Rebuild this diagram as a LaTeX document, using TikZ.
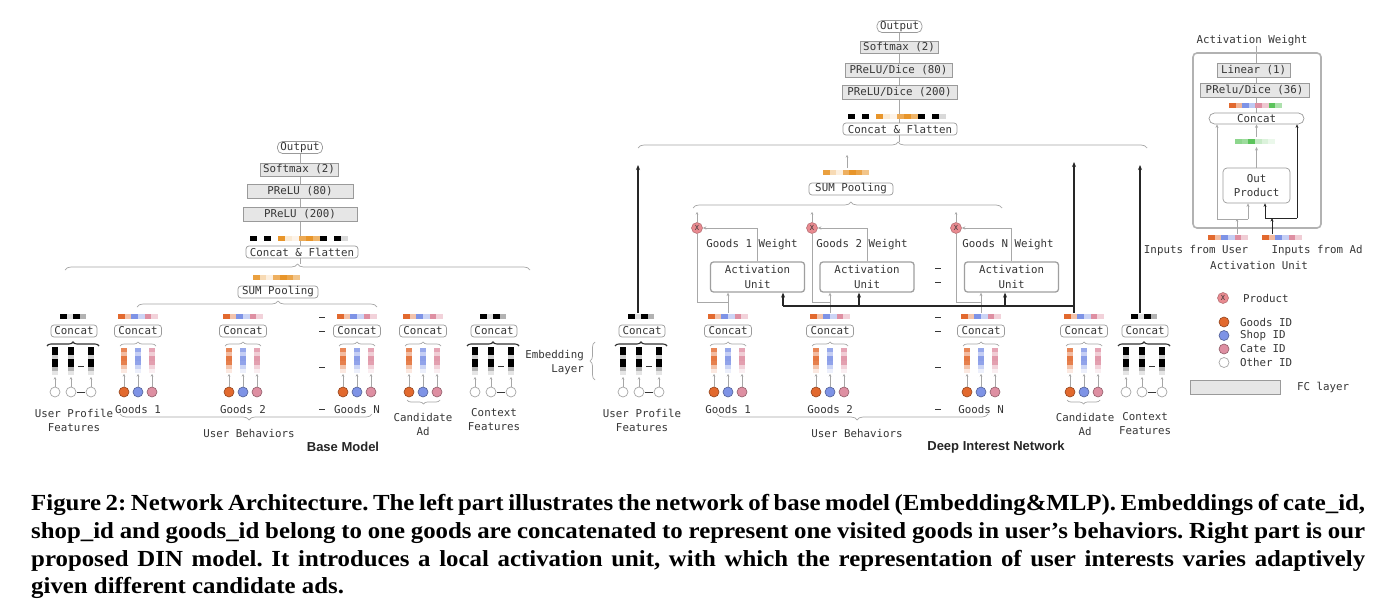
\documentclass[tikz,border=0pt]{standalone}
\usepackage{fontspec}
\setmainfont{Liberation Serif}
\setmonofont{DejaVu Sans Mono}
\newfontfamily\hsans{Liberation Sans}
\newfontfamily\capfont[FakeStretch=1.08]{Liberation Serif}
\usetikzlibrary{arrows.meta,decorations.pathreplacing}
\pgfdeclarelayer{bg}
\pgfsetlayers{bg,main}

\definecolor{gor}{HTML}{E2692E}
\definecolor{gbl}{HTML}{7E93E6}
\definecolor{gpk}{HTML}{DE8FA2}
\definecolor{ggr}{HTML}{5CC45C}
\definecolor{yor}{HTML}{E8952A}
\definecolor{xpk}{HTML}{E88A90}
\definecolor{txtc}{HTML}{363636}
\definecolor{lnc}{HTML}{A8A8A8}
\definecolor{fcfill}{HTML}{E6E6E6}
\definecolor{fcdraw}{HTML}{9A9A9A}

\tikzset{
  mono/.style={font=\ttfamily\fontsize{10.8}{14}\selectfont, text=txtc},
  fc/.style={mono, draw=fcdraw, fill=fcfill, line width=0.7pt, inner sep=0pt, minimum height=14pt},
  rbox/.style={mono, draw=fcdraw, fill=white, line width=0.7pt, rounded corners=3pt, inner sep=0pt, minimum height=12pt},
  aubox/.style={mono, draw=gray!75, fill=white, line width=1.3pt, rounded corners=3pt, align=center,
     minimum width=94pt, minimum height=30pt, inner sep=0pt, font=\ttfamily\fontsize{10.8}{14.5}\selectfont},
  lbl/.style={mono, align=center, inner sep=0pt},
  gline/.style={draw=lnc, line width=0.7pt},
  garrow/.style={gline, -{Stealth[length=3.5pt,width=3pt]}},
  sarrow/.style={draw=gray!70, line width=0.5pt, -{Stealth[length=2.5pt,width=2.5pt]}},
  bline/.style={draw=black!85, line width=1.3pt},
  barrow/.style={bline, -{Stealth[length=5pt,width=4pt]}},
  kln/.style={draw=black!85, line width=0.9pt},
  karrow/.style={kln, -{Stealth[length=3.5pt,width=3pt]}},
  gbrace/.style={draw=gray!70, line width=0.7pt, decorate, decoration={brace, amplitude=#1}},
  gbrace/.default=6pt,
  kbrace/.style={draw=black!80, line width=1.1pt, decorate, decoration={brace, amplitude=4pt}},
  circ/.style={circle, inner sep=0pt, minimum size=10pt, line width=0.6pt, fill=#1, draw=#1!65!black},
  ocirc/.style={circle, inner sep=0pt, minimum size=10pt, line width=0.7pt, fill=white, draw=gray!70},
  xcirc/.style={circle, inner sep=0pt, minimum size=11pt, fill=xpk, draw=xpk!75!black, line width=0.5pt,
     font=\ttfamily\fontsize{7}{7}\selectfont, text=black!80},
  dsh/.style={draw=txtc, line width=0.7pt},
  ttl/.style={font=\hsans\bfseries\fontsize{13}{15}\selectfont, text=black!85, inner sep=0pt},
  capl/.style={anchor=base west, inner sep=0pt, font=\capfont\bfseries\fontsize{23}{26}\selectfont\frenchspacing, text=black}
}

\newcommand{\hcells}[4]{%
  \foreach \cc [count=\ii from 0] in {#4} {\fill[fill=\cc] ({#1+\ii*#3},#2) rectangle ++(#3,5);}}
\newcommand{\vemb}[3]{%
  \foreach \pp [count=\ii from 0] in {80,45,90,85,40,15} {\fill[fill=#3!\pp!white] ({#1-3},{#2+\ii*4.2}) rectangle ++(6,4.2);}}
\newcommand{\kemb}[2]{%
  \foreach \pp [count=\ii from 0] in {100,100,20,100,100,30,10} {\fill[fill=black!\pp] ({#1-3},{#2+\ii*4}) rectangle ++(6,4);}}
\newcommand{\dashm}[2]{\draw[dsh] ({#1-3},#2) -- ({#1+3},#2);}

\newcommand{\goodsgrp}[2]{%
  \hcells{#2-20}{314}{6.67}{gor,gor!40,gbl,gbl!40,gpk,gpk!40}
  \node[rbox, minimum width=47pt] (#1c) at (#2,331) {Concat};
  \draw[gbrace=4pt] ({#2-18},346) -- ({#2+18},346);
  \vemb{#2-14}{348}{gor}\vemb{#2}{348}{gbl}\vemb{#2+14}{348}{gpk}
  \node[circ=gor] (#1a) at ({#2-14},392) {};
  \node[circ=gbl] (#1b) at (#2,392) {};
  \node[circ=gpk] (#1d) at ({#2+14},392) {};
  \coordinate (#1ea) at ({#2-14},374);
  \coordinate (#1eb) at (#2,374);
  \coordinate (#1ed) at ({#2+14},374);
  \draw[sarrow] (#1a) -- (#1ea);
  \draw[sarrow] (#1b) -- (#1eb);
  \draw[sarrow] (#1d) -- (#1ed);
}
\newcommand{\profgrp}[2]{%
  \hcells{#2-14}{314}{6.5}{black,black!12,black,black!30}
  \node[rbox, minimum width=46pt] (#1c) at (#2,331) {Concat};
  \draw[kbrace] ({#2-27},346) -- ({#2+25},346);
  \kemb{#2-19}{347}\kemb{#2-3}{347}\kemb{#2+17}{347}
  \node[ocirc] (#1a) at ({#2-19},392) {};
  \node[ocirc] (#1b) at ({#2-3},392) {};
  \node[ocirc] (#1d) at ({#2+17},392) {};
  \coordinate (#1ea) at ({#2-19},377);
  \coordinate (#1eb) at ({#2-3},377);
  \coordinate (#1ed) at ({#2+17},377);
  \draw[sarrow] (#1a) -- (#1ea);
  \draw[sarrow] (#1b) -- (#1eb);
  \draw[sarrow] (#1d) -- (#1ed);
  \draw[dsh] ({#2+3},392) -- ({#2+11},392);
  \draw[dsh] ({#2+4},366) -- ({#2+10},366);
}

\begin{document}
\begin{tikzpicture}[x=1pt,y=-1pt]
\useasboundingbox (0,0) rectangle (1384,610);

%% ================= BASE MODEL =================
\node[rbox, minimum width=45pt, rounded corners=5pt] (bout) at (300,147.5) {Output};
\node[fc, minimum width=78pt, minimum height=13pt] (bsm) at (299,169.5) {Softmax (2)};
\node[fc, minimum width=106pt] (bp80) at (300,191.5) {PReLU (80)};
\node[fc, minimum width=114pt] (bp200) at (300,214.5) {PReLU (200)};
\hcells{250}{236}{7}{black,white,black,white,yor,yor!20,yor!10,yor!80,yor,yor!70,black,white,black,black!15}
\node[rbox, minimum width=112pt] (bcf) at (302,252) {Concat \& Flatten};
\coordinate (bbt) at (300,264);
\draw[gbrace] (65,270) -- (530,270);

\hcells{253}{275}{6.7}{yor!90,yor!35,yor!15,yor!75,yor,yor!85,yor!55}
\node[rbox, minimum width=80pt] (bsum) at (278,292) {SUM Pooling};
\draw[gbrace, decoration={aspect=0.5875}] (137,307) -- (377,307);

\profgrp{bp}{74}
\goodsgrp{bga}{138}
\goodsgrp{bgb}{243}
\goodsgrp{bgn}{357}
\goodsgrp{bca}{423}
\profgrp{bcx}{494}

\dashm{322}{317}\dashm{322}{331}\dashm{322}{367}\dashm{322}{409}

\node[lbl] (bpl) at (74,420) {User Profile\\Features};
\node[lbl] (bg1l) at (138,409) {Goods 1};
\node[lbl] (bg2l) at (243,409) {Goods 2};
\node[lbl] (bgnl) at (357,409) {Goods N};
\draw[gbrace=4pt] (440,400) -- (407,400);
\node[lbl] (bcal) at (423,424) {Candidate\\Ad};
\node[lbl] (bcxl) at (494,420) {Context\\Features};
\draw[gbrace, decoration={aspect=0.488}] (372,414) -- (120,414);
\node[lbl] (bubl) at (249,433) {User Behaviors};
\node[ttl] (btitle) at (343,447) {Base Model};

%% ================= DIN =================
\node[rbox, minimum width=45pt, rounded corners=5pt] (dout) at (899.5,26.5) {Output};
\node[fc, minimum width=78pt, minimum height=12pt] (dsm) at (899,47.5) {Softmax (2)};
\node[fc, minimum width=107pt] (dp80) at (898.5,70) {PReLU/Dice (80)};
\node[fc, minimum width=115pt] (dp200) at (899.5,92) {PReLU/Dice (200)};
\hcells{848}{114}{7}{black,white,black,white,yor,yor!20,yor!10,yor!80,yor,yor!70,black,white,black,black!15}
\node[rbox, minimum width=114pt] (dcf) at (900,129) {Concat \& Flatten};
\coordinate (dbt) at (899.5,142);
\draw[gbrace, decoration={aspect=0.511}] (638,148) -- (1147,148);

\coordinate (dsa) at (847,168);
\coordinate (dsb) at (847,155);
\draw[sarrow] (dsa) -- (dsb);
\hcells{823}{170}{6.5}{yor!90,yor!35,yor!15,yor!75,yor,yor!85,yor!55}
\node[rbox, minimum width=84pt] (dsum) at (851,189) {SUM Pooling};
\draw[gbrace, decoration={aspect=0.511}] (693,208) -- (1002,208);

\node[xcirc] (x1) at (697,228) {X};
\node[xcirc] (x2) at (812,228) {X};
\node[xcirc] (xn) at (956,228) {X};
\coordinate (x1t) at (697,212);
\coordinate (x2t) at (812,212);
\coordinate (xnt) at (956,212);
\draw[sarrow] (x1) -- (x1t);
\draw[sarrow] (x2) -- (x2t);
\draw[sarrow] (xn) -- (xnt);

\node[aubox] (au1) at (757.5,277) {Activation\\Unit};
\node[aubox] (au2) at (867,277) {Activation\\Unit};
\node[aubox] (aun) at (1011.5,277) {Activation\\Unit};
\draw[garrow] (au1.north) -- (au1.north |- x1) -- (x1);
\draw[garrow] (au2.north) -- (au2.north |- x2) -- (x2);
\draw[garrow] (aun.north) -- (aun.north |- xn) -- (xn);
\node[lbl] (w1) at (752,245) {Goods 1 Weight};
\node[lbl] (w2) at (862,245) {Goods 2 Weight};
\node[lbl] (wn) at (1008,245) {Goods N Weight};

\profgrp{dp}{642}
\goodsgrp{dga}{728}
\goodsgrp{dgb}{830}
\goodsgrp{dgn}{981}
\goodsgrp{dca}{1084}
\profgrp{dcx}{1145}

% gray goods connectors
\coordinate (g1t) at (728,313); \coordinate (g1b) at (728,302); \coordinate (g1l) at (697,302);
\coordinate (g2t) at (830,313); \coordinate (g2b) at (830,302); \coordinate (g2l) at (812,302);
\coordinate (gnt) at (981,313); \coordinate (gnb) at (981,302); \coordinate (gnl) at (956,302);
\draw[garrow] (g1t) -- (g1t |- au1.south);
\draw[garrow] (g2t) -- (g2t |- au2.south);
\draw[garrow] (gnt) -- (gnt |- aun.south);
\draw[gline] (g1b) -- (g1l) -- (x1);
\draw[gline] (g2b) -- (g2l) -- (x2);
\draw[gline] (gnb) -- (gnl) -- (xn);

% black candidate connectors
\coordinate (ct) at (1074,313); \coordinate (ce) at (1074,162);
\coordinate (cb) at (1074,306); \coordinate (cl) at (783,306);
\coordinate (c2) at (859,306); \coordinate (c3) at (1005,306);
\draw[bline] (cb) -- (cl);
\draw[barrow] (ct) -- (ce);
\draw[barrow] (cl) -- (cl |- au1.south);
\draw[barrow] (c2) -- (c2 |- au2.south);
\draw[barrow] (c3) -- (c3 |- aun.south);
\coordinate (pt) at (638,313); \coordinate (pe) at (638,165);
\draw[barrow] (pt) -- (pe);
\coordinate (xt) at (1140,313); \coordinate (xe) at (1140,165);
\draw[barrow] (xt) -- (xe);

\dashm{938}{268}\dashm{938}{282}\dashm{938}{317}\dashm{938}{331}\dashm{938}{367}\dashm{938}{409}

\node[lbl, align=right, anchor=east] (embl) at (584,363) {Embedding\\Layer};
\draw[gbrace=5pt] (595,380) -- (595,342);
\node[lbl] (dpl) at (642,420) {User Profile\\Features};
\node[lbl] (dg1l) at (728,409) {Goods 1};
\node[lbl] (dg2l) at (830,409) {Goods 2};
\node[lbl] (dgnl) at (981,409) {Goods N};
\draw[gbrace=4pt] (1100,400) -- (1067,400);
\node[lbl] (dcal) at (1085,424) {Candidate\\Ad};
\node[lbl] (dcxl) at (1145,424) {Context\\Features};
\draw[gbrace, decoration={aspect=0.483}] (988,414) -- (717,414);
\node[lbl] (dubl) at (857,433) {User Behaviors};
\node[ttl] (dtitle) at (996,447) {Deep Interest Network};

%% ================= ACTIVATION UNIT PANEL =================
\node[draw=gray!60, line width=1.6pt, rounded corners=4pt, minimum width=128pt, minimum height=175pt, inner sep=0pt] (panel) at (1257,140.5) {};
\node[lbl] (aw) at (1252,41) {Activation Weight};
\node[fc, minimum width=73pt] (lin) at (1253.5,70) {Linear (1)};
\node[fc, minimum width=109pt] (prd) at (1254.5,90) {PRelu/Dice (36)};
\hcells{1229}{103}{6.6}{gor,gor!50,gbl,gbl!50,gpk,gpk!50,ggr,ggr!50}
\node[rbox, minimum width=95pt, minimum height=11pt, rounded corners=5.5pt] (pcat) at (1256.5,118.5) {Concat};
\hcells{1235}{139}{6.67}{ggr!70,ggr!60,ggr,ggr!35,ggr!22,ggr!12}
\node[rbox, align=center, minimum width=67pt, minimum height=35pt, rounded corners=4pt] (op) at (1256.5,185.5) {Out\\Product};
\coordinate (gbb) at (1256.5,147);
\coordinate (gbt) at (1256.5,137);
\draw[garrow] (op) -- (gbb);
\draw[garrow] (gbt) -- (pcat);

\hcells{1208}{235}{6.67}{gor,gor!45,gbl,gbl!45,gpk,gpk!45}
\hcells{1262}{235}{6.67}{gor,gor!45,gbl,gbl!45,gpk,gpk!45}
\coordinate (uin) at (1237,234); \coordinate (usp) at (1237,219);
\coordinate (ul) at (1217,219); \coordinate (ur) at (1248,219);
\draw[sarrow] (uin) -- (usp);
\draw[gline] (ul) -- (ur);
\draw[garrow] (ul) -- (ul |- pcat.south);
\draw[garrow] (ur) -- (ur |- op.south);
\coordinate (ain) at (1272,234); \coordinate (asp) at (1272,218);
\coordinate (al) at (1265,218); \coordinate (ar) at (1297,218);
\draw[karrow] (ain) -- (asp);
\draw[kln] (al) -- (ar);
\draw[karrow] (al) -- (al |- op.south);
\draw[karrow] (ar) -- (ar |- pcat.south);
\node[lbl] (iu) at (1196,251) {Inputs from User};
\node[lbl] (ia) at (1317,251) {Inputs from Ad};
\node[lbl] (aul) at (1259,265) {Activation Unit};

%% ================= LEGEND =================
\node[xcirc] (lx) at (1223,298) {X};
\node[lbl, anchor=west] (lxl) at (1243,298) {Product};
\node[circ=gor] (lg) at (1224,322) {};
\node[lbl, anchor=west] (lgl) at (1240,322) {Goods ID};
\node[circ=gbl] (ls) at (1224,335.5) {};
\node[lbl, anchor=west] (lsl) at (1240,335.5) {Shop ID};
\node[circ=gpk] (lc) at (1224,349) {};
\node[lbl, anchor=west] (lcl) at (1240,349) {Cate ID};
\node[ocirc] (lo) at (1224,362.5) {};
\node[lbl, anchor=west] (lol) at (1240,362.5) {Other ID};
\node[fc, minimum width=90pt, minimum height=14pt] (lfc) at (1235,387) {};
\node[lbl, anchor=west] (lfcl) at (1297,387) {FC layer};

%% ================= CAPTION =================
\node[capl] (cap1) at (31,510) {\makebox[1334pt][s]{Figure 2: Network Architecture. The left part illustrates the network of base model (Embedding\&MLP). Embeddings of cate\_id,}};
\node[capl] (cap2) at (31,538) {\makebox[1334pt][s]{shop\_id and goods\_id belong to one goods are concatenated to represent one visited goods in user’s behaviors. Right part is our}};
\node[capl] (cap3) at (31,566) {\makebox[1334pt][s]{proposed DIN model. It introduces a local activation unit, with which the representation of user interests varies adaptively}};
\node[capl] (cap4) at (31,593) {given different candidate ads.};

%% ================= BACKGROUND LAYER =================
\begin{pgfonlayer}{bg}
  \fill[white] (0,0) rectangle (1384,610);
  \draw[gline] (bout.south) -- (bbt);
  \draw[gline] (dout.south) -- (dbt);
  \draw[gline] (pcat.north) -- (pcat.north |- aw.south);
\end{pgfonlayer}
\end{tikzpicture}
\end{document}
